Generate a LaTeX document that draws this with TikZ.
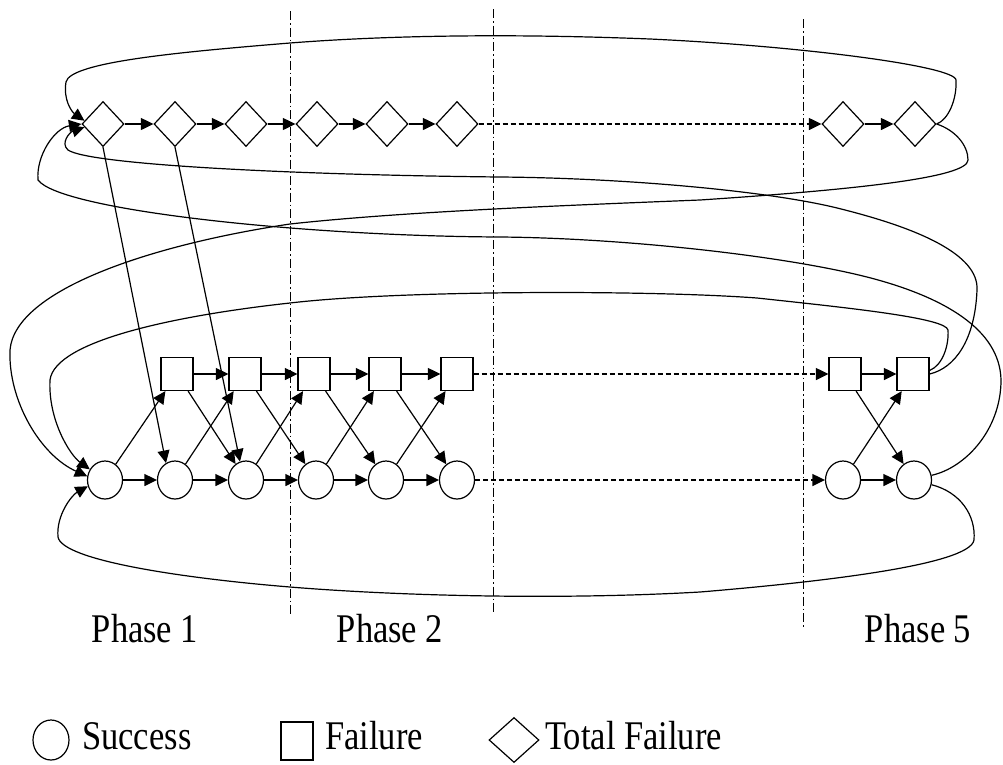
\documentclass[tikz,border=0pt]{standalone}
\usepackage{fontspec}
\setmainfont{Liberation Serif}
\usepackage{graphicx}
\usetikzlibrary{arrows.meta,shapes.geometric}
\begin{document}
\begin{tikzpicture}[x=1pt,y=-1pt,
 lw/.style={line width=1.2pt},
 arr/.style={lw, -{Triangle[length=12.5pt,width=12pt]}},
 dasharr/.style={arr, dash pattern=on 5pt off 3pt},
 phaseline/.style={line width=0.8pt, dash pattern=on 9pt off 3pt on 1.5pt off 3pt},
 succ/.style={ellipse, draw, lw, minimum width=35pt, minimum height=38pt, inner sep=0pt},
 fail/.style={rectangle, draw, lw, minimum width=32pt, minimum height=33pt, inner sep=0pt},
 tfail/.style={diamond, draw, lw, minimum width=42pt, minimum height=45pt, inner sep=0pt},
 lbl/.style={font=\fontsize{34.5}{40}\selectfont, inner sep=0pt}]
\useasboundingbox (0,0) rectangle (1003,764);

% phase separators
\draw[phaseline] (290,11) -- (290,617);
\draw[phaseline] (493,9) -- (493,615);
\draw[phaseline] (803,19) -- (803,627);

% total failure row
\node[tfail] (D1) at (103,124) {};
\node[tfail] (D2) at (175,124) {};
\node[tfail] (D3) at (246,124) {};
\node[tfail] (D4) at (317,124) {};
\node[tfail] (D5) at (387,124) {};
\node[tfail] (D6) at (457,124) {};
\node[tfail] (D7) at (843,124) {};
\node[tfail] (D8) at (915,124) {};

% failure row
\node[fail] (S2) at (177,374) {};
\node[fail] (S3) at (245,374) {};
\node[fail] (S4) at (314,374) {};
\node[fail] (S5) at (385,374) {};
\node[fail] (S6) at (457,374) {};
\node[fail] (S7) at (845,374) {};
\node[fail] (S8) at (913,374) {};

% success row
\node[succ] (C1) at (105,480) {};
\node[succ] (C2) at (175,480) {};
\node[succ] (C3) at (246,480) {};
\node[succ] (C4) at (316,480) {};
\node[succ] (C5) at (386,480) {};
\node[succ] (C6) at (457,480) {};
\node[succ] (C7) at (843,480) {};
\node[succ] (C8) at (914,480) {};

% horizontal arrows
\foreach \a/\b in {D1/D2,D2/D3,D3/D4,D4/D5,D5/D6,D7/D8,
                   S2/S3,S3/S4,S4/S5,S5/S6,S7/S8,
                   C1/C2,C2/C3,C3/C4,C4/C5,C5/C6,C7/C8}
  \draw[arr] (\a) -- (\b);
\draw[dasharr] (D6) -- (D7);
\draw[dasharr] (S6) -- (S7);
\draw[dasharr] (C6) -- (C7);

% cross arrows
\foreach \a/\b in {C1/S2,S2/C3,C2/S3,S3/C4,C3/S4,S4/C5,C4/S5,S5/C6,C5/S6,C7/S8,S7/C8}
  \draw[arr] (\a) -- (\b);

% total failure to success
\draw[arr] (D1.south) -- (C2.118);
\draw[arr] (D2.south) -- (C3.108);

% long loops
\draw[arr] (D8.east) .. controls (948,120) and (957,100) .. (956,80)
  .. controls (955,66) and (800,46) .. (650,39)
  .. controls (500,33) and (380,36) .. (290,43)
  .. controls (180,52) and (70,62) .. (66,82)
  .. controls (63,100) and (72,112) .. (D1.170);

\draw[arr] (D8.east) .. controls (955,130) and (968,145) .. (968,160)
  .. controls (968,178) and (850,190) .. (700,200)
  .. controls (550,206) and (400,212) .. (290,224)
  .. controls (150,245) and (15,290) .. (10,350)
  .. controls (8,400) and (40,455) .. (C1.168);

\draw[arr] (S8.east) .. controls (955,368) and (975,340) .. (977,290)
  .. controls (979,255) and (920,228) .. (833,207)
  .. controls (760,190) and (620,178) .. (500,177)
  .. controls (300,175) and (90,165) .. (68,150)
  .. controls (60,143) and (70,132) .. (D1.190);

\draw[arr] (C8.15) .. controls (965,468) and (1001,430) .. (1001,380)
  .. controls (1000,330) and (945,297) .. (867,277)
  .. controls (780,255) and (620,238) .. (500,237)
  .. controls (300,236) and (60,210) .. (38,180)
  .. controls (36,155) and (55,128) .. (D1.west);

\draw[arr] (S8.12) .. controls (943,365) and (949,345) .. (948,330)
  .. controls (946,318) and (850,308) .. (757,298)
  .. controls (650,290) and (400,290) .. (290,303)
  .. controls (180,315) and (55,340) .. (50,380)
  .. controls (48,420) and (70,455) .. (C1.145);

\draw[arr] (C8.-15) .. controls (960,492) and (976,515) .. (974,540)
  .. controls (970,565) and (820,582) .. (700,592)
  .. controls (560,600) and (400,596) .. (290,587)
  .. controls (180,578) and (62,560) .. (58,537)
  .. controls (56,515) and (72,495) .. (C1.200);

% phase labels
\node[lbl, anchor=base] (P1) at (145,642) {\scalebox{1}[1.18]{Phase 1}};
\node[lbl, anchor=base] (P2) at (390,642) {\scalebox{1}[1.18]{Phase 2}};
\node[lbl, anchor=base] (P5) at (918,642) {\scalebox{1}[1.18]{Phase 5}};

% legend
\node[succ, minimum width=36pt, minimum height=40pt] (LS) at (51,740) {};
\node[lbl, anchor=base west] (LSt) at (82,749) {\scalebox{1}[1.18]{Success}};
\node[fail, minimum height=38pt] (LF) at (297,741) {};
\node[lbl, anchor=base west] (LFt) at (325,749) {\scalebox{1}[1.18]{Failure}};
\node[tfail, minimum width=50pt, minimum height=45pt] (LT) at (514,740) {};
\node[lbl, anchor=base west] (LTt) at (545,749) {\scalebox{1}[1.18]{Total Failure}};
\end{tikzpicture}
\end{document}
